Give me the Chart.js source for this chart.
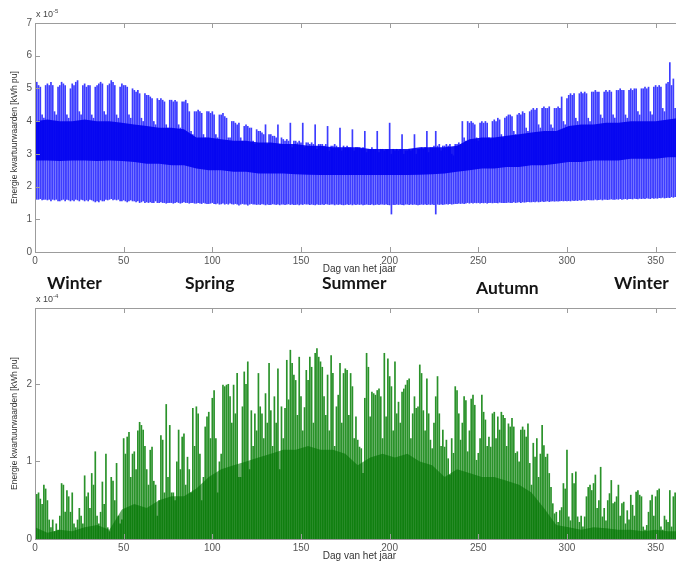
<!DOCTYPE html>
<html>
<head>
<meta charset="utf-8">
<script src="https://cdn.jsdelivr.net/npm/chart.js@4.4.1/dist/chart.umd.min.js"></script>
<style>
body { margin: 0; background: #fff; width: 676px; height: 561px; overflow: hidden; position: relative; font-family: "Liberation Sans", Arial, sans-serif; }
canvas { position: absolute; left: 0; }
#loadChart { top: 0; }
#solarChart { top: 285px; }
.season { position: absolute; font-family: Lato, "Open Sans", sans-serif; font-weight: 700; font-size: 17.5px; line-height: 18px; color: #151515; z-index: 2; white-space: nowrap; }
.exp { position: absolute; left: 36px; font-size: 9px; color: #444; z-index: 2; }
.exp sup { font-size: 6px; }
</style>
</head>
<body>
<canvas id="loadChart" width="700" height="275"></canvas>
<canvas id="solarChart" width="700" height="277"></canvas>
<div class="exp" style="top:8px">x 10<sup>-5</sup></div>
<div class="exp" style="top:293px">x 10<sup>-4</sup></div>
<div class="season" style="left:47px;top:274px">Winter</div>
<div class="season" style="left:185px;top:274px">Spring</div>
<div class="season" style="left:322px;top:274px">Summer</div>
<div class="season" style="left:476px;top:279px">Autumn</div>
<div class="season" style="left:614px;top:274px">Winter</div>
<script>
// consumption profile, daily peak per day (x 1e-5 kWh pu), one row per week
const topMax = [
  5.15, 5.2, 5.1, 5.05, 4.2, 4.1, 5.1,
  5.15, 5.1, 5.2, 5.1, 4.3, 4.2, 5.05,
  5.1, 5.2, 5.15, 5.1, 4.2, 4.1, 5.0,
  5.15, 5.1, 5.2, 5.25, 4.3, 4.2, 5.1,
  5.15, 5.05, 5.1, 5.1, 4.2, 4.1, 5.05,
  5.1, 5.15, 5.2, 5.15, 4.3, 4.2, 5.1,
  5.15, 5.25, 5.2, 5.1, 4.2, 4.1, 5.05,
  5.15, 5.1, 5.1, 5.05, 4.2, 4.1, 5.0,
  4.95, 4.9, 4.95, 4.85, 4.1, 4.0, 4.85,
  4.8, 4.8, 4.75, 4.7, 4.0, 3.9, 4.7,
  4.65, 4.7, 4.65, 4.6, 3.9, 3.8, 4.65,
  4.65, 4.6, 4.65, 4.6, 3.9, 3.8, 4.6,
  4.6, 4.65, 4.55, 4.3, 3.7, 3.6, 4.3,
  4.3, 4.35, 4.3, 4.25, 3.6, 3.5, 4.3,
  4.3, 4.25, 4.3, 4.2, 3.6, 3.5, 4.2,
  4.2, 4.25, 4.15, 4.1, 3.5, 3.5, 4.0,
  4.0, 3.95, 3.9, 3.95, 3.5, 3.4, 3.85,
  3.9, 3.85, 3.8, 3.8, 3.4, 3.3, 3.75,
  3.7, 3.7, 3.65, 3.6, 3.9, 3.3, 3.6,
  3.6, 3.55, 3.55, 3.5, 3.9, 3.3, 3.5,
  3.45, 3.4, 3.45, 3.4, 3.95, 3.2, 3.4,
  3.4, 3.35, 3.4, 3.35, 3.95, 3.2, 3.35,
  3.35, 3.3, 3.35, 3.3, 3.9, 3.15, 3.3,
  3.3, 3.3, 3.25, 3.3, 3.85, 3.1, 3.25,
  3.25, 3.3, 3.25, 3.2, 3.8, 3.1, 3.25,
  3.2, 3.25, 3.2, 3.2, 3.75, 3.1, 3.2,
  3.2, 3.2, 3.15, 3.2, 3.7, 3.05, 3.15,
  3.15, 3.2, 3.15, 3.15, 3.7, 3.05, 3.15,
  3.15, 3.1, 3.15, 3.15, 3.95, 3.0, 3.15,
  3.1, 3.15, 3.1, 3.15, 3.6, 3.0, 3.1,
  3.1, 3.15, 3.1, 3.15, 3.6, 3.0, 3.15,
  3.15, 3.2, 3.15, 3.2, 3.7, 3.05, 3.2,
  3.2, 3.25, 3.7, 3.25, 3.3, 3.1, 3.25,
  3.25, 3.3, 3.25, 3.3, 3.0, 2.95, 3.3,
  3.3, 3.35, 3.3, 4.0, 3.5, 3.4, 4.0,
  3.95, 4.0, 3.95, 3.9, 3.5, 3.4, 3.95,
  4.0, 3.95, 4.0, 3.95, 3.5, 3.45, 4.0,
  4.05, 4.0, 4.1, 4.05, 3.6, 3.5, 4.1,
  4.15, 4.2, 4.2, 4.15, 3.7, 3.6, 4.2,
  4.25, 4.2, 4.3, 4.25, 3.8, 3.7, 4.3,
  4.35, 4.4, 4.35, 4.4, 3.9, 3.8, 4.4,
  4.45, 4.4, 4.4, 4.45, 3.9, 3.8, 4.4,
  4.4, 4.45, 4.4, 4.75, 4.0, 3.9, 4.7,
  4.8, 4.85, 4.8, 4.85, 4.1, 4.0, 4.85,
  4.9, 4.85, 4.9, 4.85, 4.1, 4.0, 4.9,
  4.9, 4.95, 4.9, 4.9, 4.2, 4.1, 4.9,
  4.95, 4.9, 4.95, 4.9, 4.2, 4.1, 4.95,
  4.95, 5.0, 4.95, 4.95, 4.2, 4.1, 4.95,
  5.0, 4.95, 5.0, 5.0, 4.3, 4.2, 5.0,
  5.0, 5.05, 5.0, 5.05, 4.3, 4.2, 5.05,
  5.1, 5.05, 5.1, 5.05, 4.4, 4.3, 5.15,
  5.2, 5.8, 5.1, 5.3, 4.4, 4.4, 5.1,
  5.1
];
// daily night minimum
const topMin = [
  1.65, 1.6, 1.6, 1.62, 1.58, 1.6, 1.6,
  1.58, 1.6, 1.55, 1.6, 1.58, 1.6, 1.55,
  1.55, 1.58, 1.6, 1.55, 1.6, 1.58, 1.55,
  1.58, 1.55, 1.6, 1.58, 1.55, 1.6, 1.58,
  1.55, 1.58, 1.55, 1.6, 1.58, 1.55, 1.52,
  1.55, 1.52, 1.58, 1.55, 1.55, 1.6, 1.58,
  1.6, 1.62, 1.58, 1.6, 1.58, 1.6, 1.55,
  1.55, 1.58, 1.55, 1.52, 1.55, 1.58, 1.55,
  1.55, 1.52, 1.55, 1.5, 1.52, 1.55, 1.5,
  1.52, 1.5, 1.52, 1.5, 1.5, 1.55, 1.5,
  1.5, 1.52, 1.5, 1.5, 1.48, 1.5, 1.5,
  1.5, 1.48, 1.5, 1.52, 1.5, 1.48, 1.5,
  1.52, 1.5, 1.5, 1.48, 1.5, 1.5, 1.48,
  1.48, 1.5, 1.48, 1.47, 1.5, 1.48, 1.47,
  1.47, 1.48, 1.5, 1.47, 1.46, 1.48, 1.45,
  1.46, 1.48, 1.45, 1.47, 1.45, 1.48, 1.46,
  1.45, 1.47, 1.45, 1.42, 1.45, 1.47, 1.45,
  1.45, 1.42, 1.45, 1.47, 1.45, 1.45, 1.44,
  1.45, 1.44, 1.46, 1.45, 1.43, 1.45, 1.44,
  1.44, 1.46, 1.45, 1.44, 1.45, 1.43, 1.45,
  1.45, 1.44, 1.45, 1.46, 1.44, 1.45, 1.44,
  1.44, 1.45, 1.43, 1.45, 1.44, 1.46, 1.45,
  1.45, 1.44, 1.45, 1.44, 1.43, 1.45, 1.44,
  1.44, 1.45, 1.44, 1.46, 1.45, 1.44, 1.45,
  1.45, 1.43, 1.45, 1.44, 1.45, 1.44, 1.43,
  1.44, 1.45, 1.44, 1.45, 1.43, 1.45, 1.44,
  1.45, 1.44, 1.45, 1.43, 1.44, 1.45, 1.44,
  1.44, 1.45, 1.43, 1.44, 1.45, 1.44, 1.45,
  1.45, 1.44, 1.45, 1.44, 1.43, 1.15, 1.44,
  1.44, 1.45, 1.44, 1.45, 1.44, 1.43, 1.45,
  1.45, 1.44, 1.45, 1.44, 1.45, 1.44, 1.43,
  1.44, 1.45, 1.44, 1.45, 1.44, 1.45, 1.44,
  1.45, 1.44, 1.15, 1.45, 1.44, 1.45, 1.44,
  1.45, 1.46, 1.45, 1.47, 1.45, 1.46, 1.47,
  1.47, 1.48, 1.47, 1.48, 1.47, 1.48, 1.5,
  1.48, 1.5, 1.48, 1.5, 1.49, 1.5, 1.48,
  1.5, 1.49, 1.5, 1.48, 1.5, 1.5, 1.49,
  1.5, 1.5, 1.49, 1.51, 1.5, 1.5, 1.5,
  1.5, 1.51, 1.5, 1.5, 1.52, 1.5, 1.51,
  1.52, 1.5, 1.52, 1.51, 1.52, 1.53, 1.52,
  1.52, 1.53, 1.52, 1.54, 1.52, 1.53, 1.54,
  1.53, 1.54, 1.55, 1.53, 1.54, 1.55, 1.54,
  1.55, 1.54, 1.55, 1.56, 1.55, 1.56, 1.55,
  1.56, 1.55, 1.57, 1.56, 1.57, 1.56, 1.58,
  1.57, 1.58, 1.57, 1.58, 1.59, 1.58, 1.58,
  1.58, 1.6, 1.58, 1.59, 1.6, 1.58, 1.6,
  1.6, 1.59, 1.6, 1.61, 1.6, 1.6, 1.61,
  1.6, 1.62, 1.6, 1.61, 1.62, 1.6, 1.62,
  1.62, 1.61, 1.63, 1.62, 1.61, 1.63, 1.62,
  1.63, 1.62, 1.64, 1.63, 1.62, 1.64, 1.63,
  1.64, 1.63, 1.65, 1.64, 1.66, 1.64, 1.65,
  1.66, 1.65, 1.68, 1.66, 1.68, 1.7, 1.68,
  1.7
];
// dense band of the profile, one value per week
const topCoreHi = [
  4.0, 4.05, 4.0, 4.0, 4.05, 4.0, 4.0, 3.95,
  3.9, 3.85, 3.8, 3.8, 3.75,
  3.5, 3.5, 3.45, 3.4,
  3.4, 3.35, 3.35, 3.3,
  3.3, 3.25, 3.25, 3.2, 3.2, 3.2, 3.15, 3.15, 3.15, 3.15, 3.2, 3.2, 3.2,
  3.25, 3.45, 3.5, 3.5, 3.55,
  3.6, 3.65, 3.7, 3.7,
  3.85, 3.9, 3.9, 3.95, 3.95, 4.0, 4.0, 4.0, 4.05, 4.1
];
const topCoreLo = [
  2.8, 2.8, 2.78, 2.8, 2.8, 2.78, 2.8, 2.78,
  2.75, 2.7, 2.7, 2.65, 2.65,
  2.55, 2.5, 2.5, 2.45,
  2.45, 2.4, 2.4, 2.4,
  2.38, 2.36, 2.35, 2.35, 2.35, 2.35, 2.35, 2.35, 2.35, 2.35, 2.36, 2.38, 2.4,
  2.45, 2.5, 2.55, 2.55, 2.6,
  2.6, 2.65, 2.65, 2.7,
  2.75, 2.75, 2.8, 2.8, 2.8, 2.85, 2.85, 2.85, 2.9, 2.9
];

// PV production, daily peak per day (x 1e-4 kWh pu), ten days per row
const solarMax = [
  0.61, 0.58, 0.6, 0.52, 0.45, 0.7, 0.65, 0.5, 0.25, 0.15,
  0.25, 0.1, 0.2, 0.12, 0.3, 0.72, 0.7, 0.35, 0.63, 0.55,
  0.35, 0.6, 0.2, 0.15, 0.25, 0.4, 0.3, 0.2, 0.82, 0.55,
  0.6, 0.4, 0.85, 0.7, 1.13, 0.3, 0.2, 0.35, 0.74, 0.45,
  1.1, 0.15, 0.1, 0.8, 0.75, 0.5, 0.98, 0.3, 0.2, 0.25,
  1.3, 1.1, 1.32, 1.38, 0.8, 1.1, 1.13, 0.9, 1.4, 1.51,
  1.47, 1.41, 1.2, 0.9, 0.7, 1.15, 1.19, 0.75, 0.7, 0.3,
  0.5, 1.34, 1.28, 0.6, 1.74, 0.8, 1.47, 0.6, 0.6, 0.5,
  1.0, 1.41, 0.9, 1.32, 1.36, 0.7, 1.06, 0.9, 0.6, 1.69,
  1.2, 1.71, 1.62, 1.1, 0.5, 0.8, 1.45, 1.58, 1.64, 1.3,
  1.82, 1.92, 1.3, 0.6, 1.0, 1.1, 1.99, 1.97, 1.99, 2.0,
  1.84, 1.5, 1.99, 1.62, 2.14, 0.8, 0.8, 1.71, 2.16, 2.0,
  2.29, 0.9, 1.66, 1.2, 1.62, 1.4, 2.14, 1.71, 1.62, 1.3,
  1.88, 1.5, 2.27, 1.66, 1.2, 1.84, 1.5, 2.2, 0.9, 1.71,
  1.3, 1.69, 2.31, 1.8, 2.44, 2.27, 2.12, 2.05, 1.6, 2.35,
  1.84, 1.4, 1.7, 2.18, 2.05, 2.35, 2.22, 1.5, 2.4, 2.46,
  2.35, 2.29, 2.22, 1.84, 1.6, 2.12, 1.4, 2.37, 2.14, 1.2,
  1.71, 1.86, 2.27, 1.5, 2.14, 2.2, 2.18, 1.6, 2.14, 1.97,
  1.3, 1.58, 1.28, 1.19, 1.17, 0.85, 1.82, 2.4, 2.22, 1.58,
  1.9, 1.88, 1.86, 1.92, 1.94, 1.84, 1.3, 2.4, 1.58, 2.33,
  2.1, 1.97, 1.4, 2.29, 1.62, 1.77, 1.5, 1.9, 1.94, 1.99,
  2.05, 2.07, 1.3, 1.62, 1.84, 1.69, 1.71, 2.25, 2.14, 1.66,
  1.4, 2.07, 1.62, 1.28, 1.17, 1.5, 1.84, 2.1, 1.62, 1.2,
  1.41, 1.19, 1.28, 1.04, 0.83, 1.3, 1.11, 1.97, 1.92, 1.62,
  1.28, 1.5, 1.84, 1.79, 1.13, 1.4, 1.81, 1.86, 1.73, 1.02,
  1.11, 1.3, 1.86, 1.64, 1.54, 1.2, 1.32, 1.19, 1.62, 1.64,
  1.3, 1.58, 1.41, 1.64, 1.6, 1.56, 1.2, 1.49, 1.45, 1.56,
  1.45, 1.11, 1.13, 1.0, 1.41, 1.45, 1.41, 1.32, 1.49, 0.98,
  0.7, 1.24, 1.06, 1.3, 0.8, 1.1, 1.47, 1.21, 1.06, 1.1,
  0.85, 0.67, 0.46, 0.33, 0.35, 0.22, 0.37, 0.41, 0.72, 0.65,
  1.15, 0.29, 0.24, 0.85, 0.72, 0.87, 0.29, 0.22, 0.3, 0.16,
  0.29, 0.55, 0.67, 0.7, 0.63, 0.72, 0.83, 0.4, 0.5, 0.93,
  0.29, 0.4, 0.24, 0.5, 0.59, 0.76, 0.46, 0.48, 0.55, 0.7,
  0.3, 0.46, 0.48, 0.2, 0.37, 0.25, 0.57, 0.44, 0.3, 0.61,
  0.63, 0.57, 0.55, 0.16, 0.12, 0.18, 0.35, 0.5, 0.57, 0.3,
  0.55, 0.63, 0.65, 0.16, 0.12, 0.3, 0.25, 0.22, 0.63, 0.16,
  0.55, 0.6, 0.3, 0.5, 0.4
];
// dense lower part of the PV spikes, one value per week
const solarCore = [
  0.15, 0.08, 0.12, 0.1, 0.15, 0.18, 0.12,
  0.38, 0.45, 0.4,
  0.5, 0.55, 0.55, 0.65,
  0.8, 0.9, 0.95,
  1.0, 1.05, 1.1, 1.15, 1.15, 1.2, 1.15, 1.15, 1.1,
  0.95, 1.05, 1.1, 1.05, 1.1, 1.0, 0.95,
  0.8, 0.9, 0.85, 0.8, 0.8, 0.75,
  0.7, 0.6, 0.4,
  0.18,
  0.15, 0.12, 0.15, 0.14, 0.12, 0.12, 0.1, 0.12, 0.1, 0.1
];

const LAST_DAY = 364;
const weekPoints = arr => arr.map((v, i) => ({ x: Math.min(i * 7, LAST_DAY), y: v }));

// matlab style box with inward tick marks
const frame = {
    id: "frame",
    afterDatasetsDraw(chart) {
        const { ctx, chartArea: a, scales } = chart;
        ctx.save();
        ctx.strokeStyle = "#9c9c9c";
        ctx.lineWidth = 1;
        ctx.strokeRect(Math.round(a.left) + 0.5, Math.round(a.top) + 0.5,
            Math.round(a.right - a.left), Math.round(a.bottom - a.top));
        ctx.beginPath();
        scales.x.ticks.forEach(t => {
            const px = Math.round(scales.x.getPixelForValue(t.value)) + 0.5;
            ctx.moveTo(px, a.bottom); ctx.lineTo(px, a.bottom - 5);
            ctx.moveTo(px, a.top); ctx.lineTo(px, a.top + 5);
        });
        scales.y.ticks.forEach(t => {
            const py = Math.round(scales.y.getPixelForValue(t.value)) + 0.5;
            ctx.moveTo(a.left, py); ctx.lineTo(a.left + 5, py);
            ctx.moveTo(a.right, py); ctx.lineTo(a.right - 5, py);
        });
        ctx.stroke();
        ctx.restore();
    }
};

function makeScales(yMax, yTitle) {
    return {
        x: {
            type: "linear", min: 0, max: 366, offset: false,
            grid: { display: false, drawTicks: false },
            border: { display: false },
            ticks: { stepSize: 50, includeBounds: false, padding: 3, color: "#555", maxRotation: 0,
                     font: { size: 10, family: "Liberation Sans" } },
            title: { display: true, text: "Dag van het jaar", color: "#333", padding: 0,
                     font: { size: 10, family: "Liberation Sans" } },
            afterFit(s) { s.height = 23; }
        },
        y: {
            min: 0, max: yMax,
            grid: { display: false, drawTicks: false },
            border: { display: false },
            ticks: { stepSize: 1, includeBounds: false, padding: 3, color: "#555",
                     font: { size: 10, family: "Liberation Sans" },
                     callback: v => Number.isInteger(v) ? v : "" },
            title: { display: true, text: yTitle, color: "#333", padding: { top: 10, bottom: 0 },
                     font: { size: 8.5, family: "Liberation Sans" } },
            afterFit(s) { s.width = 35; }
        }
    };
}

const common = {
    responsive: false,
    animation: false,
    devicePixelRatio: 1,
    layout: { padding: { top: 23, right: 16, left: 0, bottom: 0 } },
    plugins: { legend: { display: false }, tooltip: { enabled: false } }
};

new Chart(document.getElementById("loadChart"), {
    type: "bar",
    data: {
        datasets: [
            {
                type: "bar",
                data: topMax.map((v, i) => ({ x: i, y: [topMin[i], v] })),
                backgroundColor: "#3d3dff",
                barPercentage: 0.95, categoryPercentage: 1,
                order: 2
            },
            {
                type: "line",
                data: weekPoints(topCoreHi),
                borderColor: "rgba(0,0,0,0)", borderWidth: 0, pointRadius: 0,
                backgroundColor: "rgba(0,0,240,0.9)", fill: "+1",
                order: 1
            },
            {
                type: "line",
                data: weekPoints(topCoreLo),
                borderColor: "rgba(0,0,0,0)", borderWidth: 0, pointRadius: 0,
                fill: false,
                order: 1
            }
        ]
    },
    options: { ...common, scales: makeScales(7, "Energie kwartuurwaarden [kWh pu]") },
    plugins: [frame]
});

new Chart(document.getElementById("solarChart"), {
    type: "bar",
    data: {
        datasets: [
            {
                type: "bar",
                data: solarMax.map((v, i) => ({ x: i, y: v })),
                backgroundColor: "#2a922a",
                barPercentage: 0.95, categoryPercentage: 1,
                order: 2
            },
            {
                type: "line",
                data: weekPoints(solarCore),
                borderColor: "rgba(0,0,0,0)", borderWidth: 0, pointRadius: 0,
                backgroundColor: "rgba(0,115,0,0.6)", fill: "origin",
                order: 1
            }
        ]
    },
    options: { ...common, scales: makeScales(2.98, "Energie kwartuurwaarden [kWh pu]") },
    plugins: [frame]
});
</script>
</body>
</html>
